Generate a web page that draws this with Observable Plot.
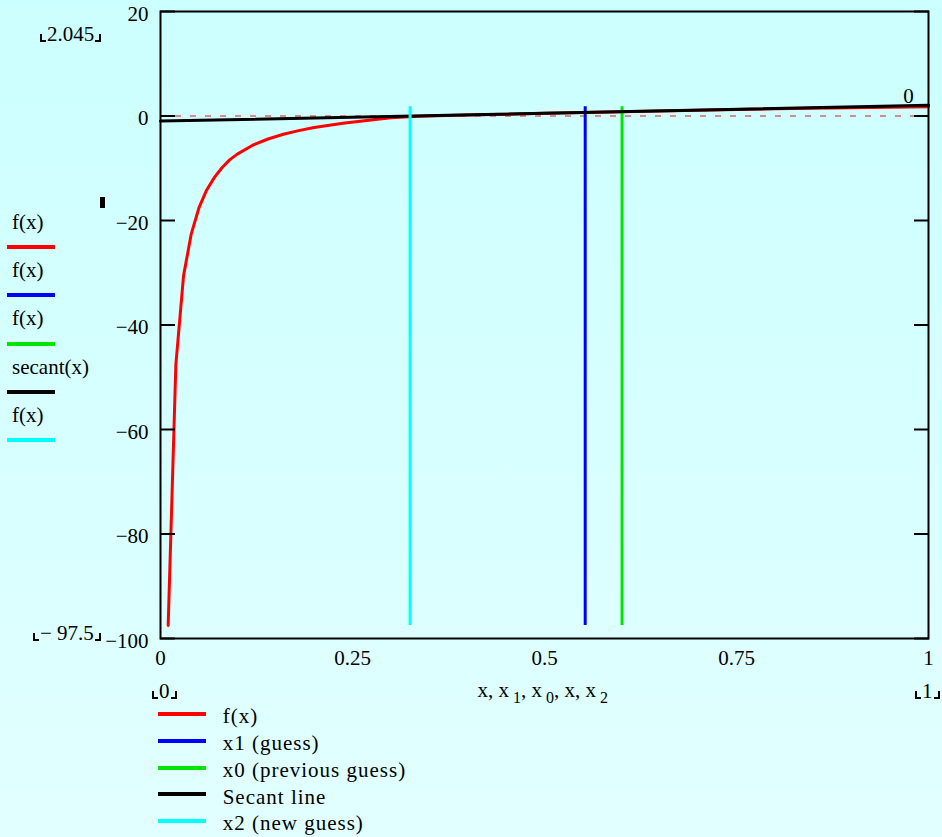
<!DOCTYPE html>
<html><head><meta charset="utf-8">
<script src="https://cdn.jsdelivr.net/npm/d3@7"></script>
<script src="https://cdn.jsdelivr.net/npm/@observablehq/plot@0.6"></script>
<style>
html,body{margin:0;padding:0;}
body{width:942px;height:837px;overflow:hidden;background:linear-gradient(#ccffff,#e2ffff);font-family:"Liberation Serif","Times New Roman",serif;color:#000;}
#wrap{position:relative;width:942px;height:837px;}
#chart{position:absolute;left:0;top:0;}
.t{position:absolute;font-size:21px;line-height:21px;white-space:nowrap;}
.lim::before,.lim::after{content:"";display:inline-block;width:4px;height:6px;border-bottom:2px solid #000;vertical-align:-1px;}
.lim::before{border-left:2px solid #000;margin-right:1px;}
.lim::after{border-right:2px solid #000;margin-left:1px;}
.sw{position:absolute;height:4px;}
sub{font-size:16px;vertical-align:-6px;margin-left:4px;}
</style></head><body><div id="wrap"><div id="chart"></div></div>
<script>
// ---- data ----
const fX = [0.01,0.02,0.03,0.04,0.05,0.06,0.07,0.08,0.09,0.10,0.12,0.14,0.16,0.18,0.20,0.22,0.24,0.26,0.28,0.30,0.33,0.36,0.40,0.45,0.50,0.553,0.60,0.65,0.70,0.75,0.80,0.85,0.90,0.95,1.00];
const fY = [-97.5,-47.6,-30.6,-22.6,-17.6,-14.2,-11.8,-9.9,-8.4,-7.3,-5.6,-4.4,-3.5,-2.8,-2.2,-1.75,-1.35,-1.0,-0.65,-0.35,-0.08,0.03,0.17,0.35,0.52,0.69,0.83,0.98,1.12,1.26,1.38,1.50,1.60,1.68,1.75];
const secantX = [0, 1];
const secantY = [-0.98, 2.045];
const x1Guess = 0.553;
const x0Guess = 0.601;
const x2Guess = 0.325;
const markerY = 0;
const yTicks = [20, 0, -20, -40, -60, -80, -100];
const xTicks = [0, 0.25, 0.5, 0.75, 1];
const yLimitLabels = ["2.045", "\u2212 97.5"];
const xLimitLabels = ["0", "1"];
const leftLegendLabels = ["f(x)", "f(x)", "f(x)", "secant(x)", "f(x)"];
const bottomLegendLabels = ["f(x)", "x1 (guess)", "x0 (previous guess)", "Secant line", "x2 (new guess)"];
const seriesColors = ["#ff0000", "#0000ff", "#00e600", "#000000", "#00ffff"];

const fData = fX.map((x, i) => ({x, y: fY[i]}));
const secData = secantX.map((x, i) => ({x, y: secantY[i]}));
const fMin = d3.min(fY), fMax = d3.max(fY);
const fmt = d => String(d).replace("-", "\u2212");

const plot = Plot.plot({
  width: 942, height: 700,
  marginLeft: 160, marginRight: 14, marginTop: 11, marginBottom: 62,
  x: {domain: [0, 1]},
  y: {domain: [-100, 20]},
  style: {background: "transparent", fontFamily: '"Liberation Serif", "Times New Roman", serif', fontSize: "21px", color: "#000", overflow: "visible"},
  marks: [
    Plot.ruleY([markerY], {stroke: "#e06666", strokeWidth: 1.5, strokeDasharray: "6,9"}),
    Plot.line(fData, {x: "x", y: "y", stroke: seriesColors[0], strokeWidth: 3}),
    Plot.ruleX([x1Guess], {y1: fMin, y2: fMax, stroke: seriesColors[1], strokeWidth: 3}),
    Plot.ruleX([x0Guess], {y1: fMin, y2: fMax, stroke: seriesColors[2], strokeWidth: 3}),
    Plot.line(secData, {x: "x", y: "y", stroke: seriesColors[3], strokeWidth: 3}),
    Plot.ruleX([x2Guess], {y1: fMin, y2: fMax, stroke: seriesColors[4], strokeWidth: 3}),
    Plot.text([markerY], {x: () => 1, y: d => d, text: d => String(d), dx: -20, dy: -20, fontSize: 21}),
    Plot.frame({stroke: "#000", strokeWidth: 2}),
    Plot.axisY(yTicks, {anchor: "left", tickSize: -15, tickFormat: () => "", label: null, strokeWidth: 2}),
    Plot.axisY(yTicks, {anchor: "right", tickSize: -15, tickFormat: () => "", label: null, strokeWidth: 2}),
    Plot.axisY(yTicks, {anchor: "left", tickSize: 0, tickPadding: 12, label: null, dy: 2.5, tickFormat: fmt}),
    Plot.axisX(xTicks, {anchor: "bottom", tickSize: 0, tickPadding: 12, label: null, tickFormat: fmt})
  ]
});
document.getElementById("chart").appendChild(plot);

// ---- HTML annotations ----
const wrap = document.getElementById("wrap");
function place(html, left, baseline, opts = {}) {
  const d = document.createElement("div");
  d.className = "t" + (opts.cls ? " " + opts.cls : "");
  d.innerHTML = html;
  d.style.top = (baseline - 17.6) + "px";
  if (opts.letter) d.style.letterSpacing = opts.letter;
  wrap.appendChild(d);
  if (opts.align === "center") d.style.left = (left - d.offsetWidth / 2) + "px";
  else if (opts.align === "right") d.style.left = (left - d.offsetWidth) + "px";
  else d.style.left = left + "px";
  return d;
}
place(yLimitLabels[0], 40, 42, {cls: "lim"});
place(yLimitLabels[1], 33, 641, {cls: "lim"});
place(xLimitLabels[0], 152, 699, {cls: "lim"});
place(xLimitLabels[1], 940, 699, {cls: "lim", align: "right"});
place("x, x<sub>1</sub>, x<sub>0</sub>, x, x<sub>2</sub>", 543, 698, {align: "center"});

// placeholder mark
const box = document.createElement("div");
box.style.cssText = "position:absolute;left:100px;top:197px;width:5px;height:11px;background:#000;";
wrap.appendChild(box);

// left legend
leftLegendLabels.forEach((lab, i) => {
  const lineY = 247.3 + 48.1 * i;
  place(lab, 12, lineY - 17.5);
  const s = document.createElement("div");
  s.className = "sw";
  s.style.cssText += `left:7px;width:48px;top:${lineY - 2}px;background:${seriesColors[i]};`;
  wrap.appendChild(s);
});
// bottom legend
bottomLegendLabels.forEach((lab, i) => {
  const lineY = 714.3 + 26.7 * i;
  place(lab, 222.7, lineY + 9.7, {letter: "1px"});
  const s = document.createElement("div");
  s.className = "sw";
  s.style.cssText += `left:158px;width:48px;top:${lineY - 2}px;background:${seriesColors[i]};`;
  wrap.appendChild(s);
});
</script></body></html>
